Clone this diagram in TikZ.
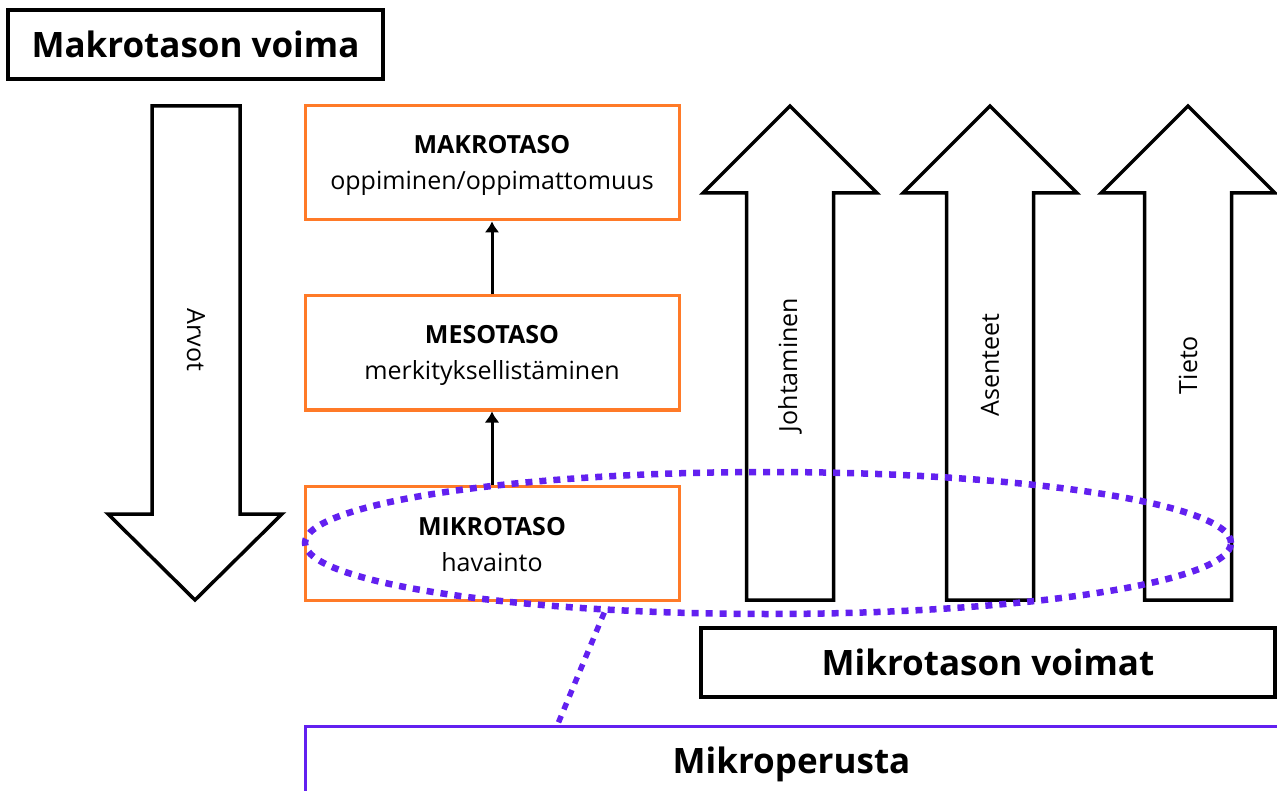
\documentclass[tikz,border=0pt]{standalone}
\usepackage{fontspec}
\setmainfont{Open Sans}
\usetikzlibrary{arrows.meta,shapes.geometric}
\definecolor{levelorange}{RGB}{255,122,40}
\definecolor{basepurple}{RGB}{98,32,240}
\tikzset{
  titlebox/.style={draw=black, line width=3.5pt, minimum width=375pt, minimum height=69pt,
    inner sep=0pt, font=\fontsize{35}{42}\selectfont\bfseries},
  levelbox/.style={draw=levelorange, line width=3pt, minimum width=374pt, minimum height=114pt,
    inner sep=0pt, align=center, font=\fontsize{25}{36}\selectfont},
  blockarrow/.style={draw=black, line width=3.5pt, fill=white, line join=miter},
  arrowlabel/.style={font=\fontsize{25}{30}\selectfont, inner sep=0pt},
  linkarrow/.style={draw=black, line width=3pt, -{Latex[length=11pt,width=15pt]}},
  dotline/.style={draw=basepurple, line width=6.5pt, dash pattern=on 7pt off 7pt},
}
\begin{document}
\begin{tikzpicture}[x=1pt, y=-1pt]
  \useasboundingbox[fill=white] (0,0) rectangle (1277,791);

  % top-down force
  \node[titlebox] (macroforce) at (195.5,44.5) {Makrotason voima};
  \draw[blockarrow] (152,106) -- (240,106) -- (240,514) -- (282,514) -- (195,600)
    -- (108,514) -- (152,514) -- cycle;
  \node[arrowlabel, rotate=-90] (values) at (196,340) {Arvot};

  % levels
  \node[levelbox] (makro) at (492,163) {};
  \node[levelbox] (meso)  at (492,353) {};
  \node[levelbox] (mikro) at (492,543) {};
  \node[levelbox, draw=none] (makrotext) at (492,165) {\textbf{MAKROTASO}\\oppiminen/oppimattomuus};
  \node[levelbox, draw=none] (mesotext)  at (492,355) {\textbf{MESOTASO}\\merkityksellistäminen};
  \node[levelbox, draw=none] (mikrotext) at (492,545) {\textbf{MIKROTASO}\\havainto};
  \draw[linkarrow] (meso) -- (makro);
  \draw[linkarrow] (mikro) -- (meso);

  % bottom-up forces
  \foreach \cx/\lab/\nm in {790/Johtaminen/lead, 990/Asenteet/att, 1188/Tieto/know}{
    \draw[blockarrow] (\cx,106) -- (\cx+87,193) -- (\cx+43.5,193) -- (\cx+43.5,600)
      -- (\cx-43.5,600) -- (\cx-43.5,193) -- (\cx-87,193) -- cycle;
    \node[arrowlabel, rotate=90] (\nm) at (\cx,365) {\lab};
  }
  \node[titlebox, minimum width=574pt] (microforces) at (988,662.5) {Mikrotason voimat};

  % micro-foundation
  \node[draw=basepurple, line width=3pt, minimum width=973pt, minimum height=76pt,
    inner sep=0pt, font=\fontsize{35}{42}\selectfont\bfseries] (foundation) at (791.5,764) {Mikroperusta};
  \node[ellipse, dotline, minimum width=926pt, minimum height=142pt, inner sep=0pt] (focus) at (768,543) {};
  \coordinate (footin) at (557,726);
  \draw[dotline, line width=5.5pt] (focus.203.7) -- (footin);
\end{tikzpicture}
\end{document}
